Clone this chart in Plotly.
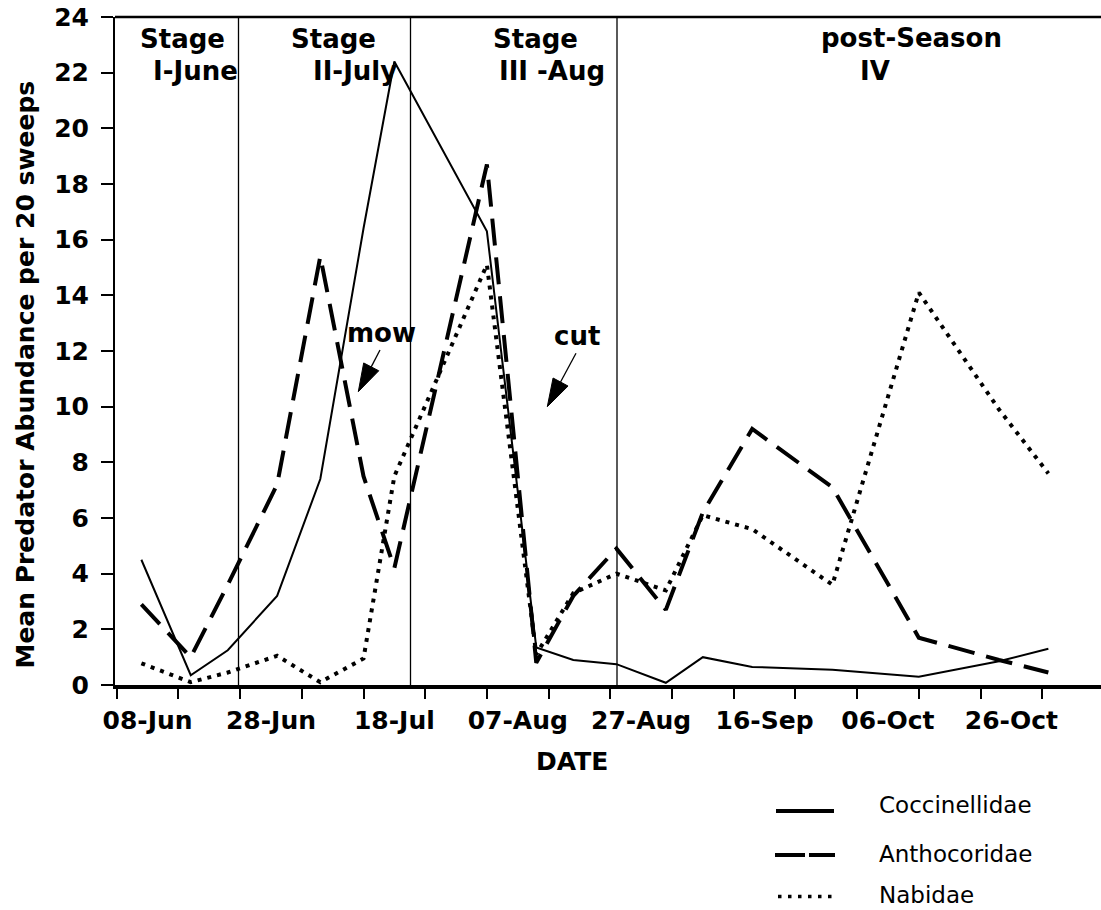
import plotly.graph_objects as go
import pandas as pd

# ---------------- data ----------------
sample_dates = ["2000-06-07", "2000-06-15", "2000-06-21", "2000-06-29", "2000-07-06",
                "2000-07-13", "2000-07-18", "2000-08-02", "2000-08-10", "2000-08-16",
                "2000-08-23", "2000-08-31", "2000-09-06", "2000-09-14", "2000-09-27",
                "2000-10-11", "2000-10-24", "2000-11-01"]
coccinellidae = [4.5, 0.35, 1.25, 3.2, 7.4, 16.4, 22.4, 16.3, 1.35, 0.9,
                 0.75, 0.08, 1.0, 0.65, 0.55, 0.3, 0.85, 1.3]
anthocoridae = [2.9, 1.0, 3.6, 7.2, 15.4, 7.5, 4.2, 18.7, 0.8, 3.2,
                4.9, 2.7, 6.2, 9.2, 7.1, 1.7, 0.9, 0.45]
nabidae = [0.78, 0.1, 0.45, 1.05, 0.1, 0.95, 7.5, 15.1, 1.1, 3.3,
           4.0, 3.4, 6.1, 5.6, 3.6, 14.1, 9.9, 7.6]

tick_label_dates = ["2000-06-08", "2000-06-28", "2000-07-18", "2000-08-07",
                    "2000-08-27", "2000-09-16", "2000-10-06", "2000-10-26"]
tick_labels = ["08-Jun", "28-Jun", "18-Jul", "07-Aug", "27-Aug", "16-Sep", "06-Oct", "26-Oct"]
y_ticks = list(range(0, 25, 2))
series_names = ["Coccinellidae", "Anthocoridae", "Nabidae"]

# ---------------- geometry helpers (page pixel coords) ----------------
FIG_W, FIG_H = 1101, 910
L, R, T, B = 115, 1101, 17, 685
ORIGIN = pd.Timestamp("2000-06-03")
PX0, PX_PER_DAY = 116.7, 6.17


def px_to_date(px):
    return ORIGIN + pd.Timedelta(days=(px - PX0) / PX_PER_DAY)


def pxx(px):
    return (px - L) / (R - L)


def pxy(py):
    return (B - py) / (B - T)


FONT = "DejaVu Sans"

fig = go.Figure()
styles = [dict(color="black", width=2),
          dict(color="black", width=4, dash="27px,12px"),
          dict(color="black", width=4, dash="4px,6px")]
for name, vals, st in zip(series_names, [coccinellidae, anthocoridae, nabidae], styles):
    fig.add_trace(go.Scatter(x=sample_dates, y=vals, mode="lines", name=name,
                             line=st, showlegend=False, hoverinfo="x+y+name"))

shapes = []
# top border
shapes.append(dict(type="line", xref="paper", yref="paper", x0=0, x1=1, y0=1, y1=1,
                   line=dict(color="black", width=2.5)))
# stage boundaries
for px in [238.5, 410.5, 617.0]:
    d = px_to_date(px)
    shapes.append(dict(type="line", xref="x", yref="paper", x0=d, x1=d, y0=0, y1=1,
                       layer="below", line=dict(color="black", width=1.3)))


def arrow(tail, tip, head_len=28, head_w=17):
    dx, dy = tip[0] - tail[0], tip[1] - tail[1]
    n = (dx * dx + dy * dy) ** 0.5
    ux, uy = dx / n, dy / n
    bx, by = tip[0] - ux * head_len, tip[1] - uy * head_len
    px_, py_ = -uy, ux
    p1 = (bx + px_ * head_w / 2, by + py_ * head_w / 2)
    p2 = (bx - px_ * head_w / 2, by - py_ * head_w / 2)
    out = [dict(type="line", xref="paper", yref="paper",
                x0=pxx(tail[0]), y0=pxy(tail[1]), x1=pxx(bx), y1=pxy(by),
                line=dict(color="black", width=1.3))]
    path = "M{},{} L{},{} L{},{} Z".format(pxx(tip[0]), pxy(tip[1]),
                                         pxx(p1[0]), pxy(p1[1]),
                                         pxx(p2[0]), pxy(p2[1]))
    out.append(dict(type="path", xref="paper", yref="paper", path=path,
                    fillcolor="black", line=dict(color="black", width=1)))
    return out


shapes += arrow((380, 350), (358.3, 391.7))
shapes += arrow((576, 353.3), (547.3, 406.7))

# manual legend samples
shapes.append(dict(type="line", xref="paper", yref="paper", x0=pxx(776), x1=pxx(834),
                   y0=pxy(811), y1=pxy(811), line=dict(color="black", width=4)))
shapes.append(dict(type="line", xref="paper", yref="paper", x0=pxx(775), x1=pxx(835),
                   y0=pxy(855), y1=pxy(855), line=dict(color="black", width=4, dash="30px,4px")))
shapes.append(dict(type="line", xref="paper", yref="paper", x0=pxx(778), x1=pxx(834),
                   y0=pxy(896.5), y1=pxy(896.5), line=dict(color="black", width=3.5, dash="3.5px,6.5px")))

annotations = []


def txt(s, cx, cy, size=26, bold=True, xanchor="center", angle=0):
    annotations.append(dict(text=s, xref="paper", yref="paper", x=pxx(cx), y=pxy(cy),
                            xanchor=xanchor, yanchor="middle", showarrow=False,
                            textangle=angle,
                            font=dict(family=FONT, size=size, color="black",
                                      weight="bold" if bold else "normal")))


txt("Stage", 182, 39.5)
txt("I-June", 195.4, 71)
txt("Stage", 333.3, 39.5)
txt("II-July", 355, 71)
txt("Stage", 535, 39.5)
txt("III -Aug", 552, 71)
txt("post-Season", 911, 38.5)
txt("IV", 874.5, 71)
txt("mow", 381.5, 333.5)
txt("cut", 577, 335.5)
txt("DATE", 572, 761.7, size=25)
txt("Mean Predator Abundance per 20 sweeps", 25, 374.5, size=25, angle=-90)
for name, cy in zip(series_names, [805, 853.8, 895]):
    txt(name, 876.7, cy, size=23, bold=False, xanchor="left")

fig.update_layout(
    width=FIG_W, height=FIG_H,
    margin=dict(l=L, r=FIG_W - R, t=T, b=FIG_H - B, pad=0, autoexpand=False),
    plot_bgcolor="white", paper_bgcolor="white",
    showlegend=False,
    shapes=shapes, annotations=annotations,
    xaxis=dict(type="date", range=[px_to_date(L), px_to_date(R)], automargin=False,
               tickmode="array", tickvals=tick_label_dates, ticktext=tick_labels,
               ticks="outside", ticklen=10, tickcolor="rgba(0,0,0,0)",
               ticklabeloverflow="allow",
               tickfont=dict(family=FONT, size=25, color="black", weight="bold"),
               showline=True, linecolor="black", linewidth=4,
               showgrid=False, zeroline=False,
               minor=dict(ticks="outside", ticklen=10, tickwidth=1.5, tickcolor="black",
                          tick0="2000-06-03", dtick=864000000, showgrid=False)),
    yaxis=dict(range=[0, 24], tickmode="array", tickvals=y_ticks, automargin=False,
               ticks="outside", ticklen=12, tickwidth=1.5, tickcolor="black",
               ticklabelstandoff=7, ticklabeloverflow="allow",
               tickfont=dict(family=FONT, size=25, color="black", weight="bold"),
               showline=True, linecolor="black", linewidth=2,
               showgrid=False, zeroline=False),
)

# remove the page's default body margin so the figure sits at the window origin
fig.write_html("out.html",
               config={"displayModeBar": False},
               post_script="document.body.style.margin='0px';"
                           "document.documentElement.style.overflow='hidden';")
